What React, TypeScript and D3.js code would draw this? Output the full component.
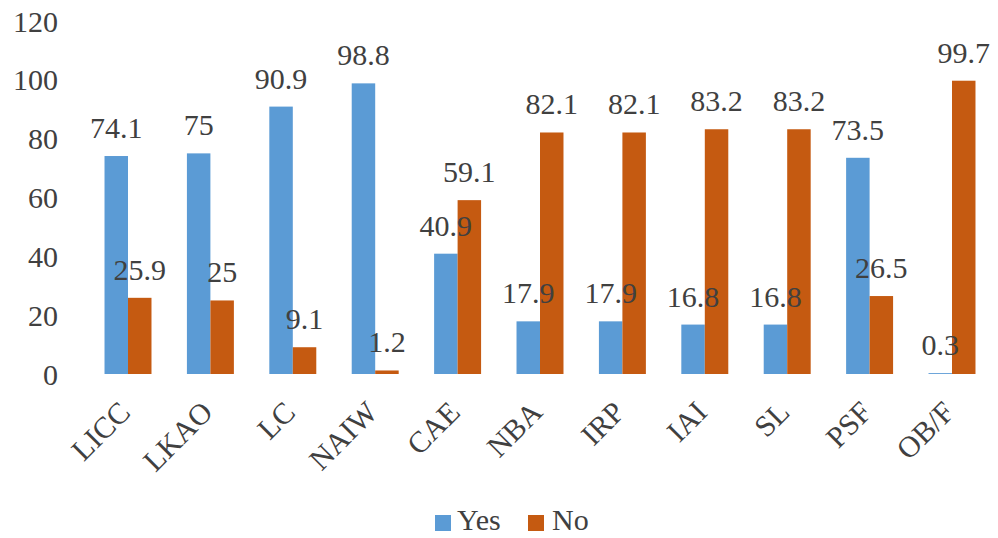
import React from "react";
import * as d3 from "d3";

const categories = ["LICC", "LKAO", "LC", "NAIW", "CAE", "NBA", "IRP", "IAI", "SL", "PSF", "OB/F"];
const yesValues = [74.1, 75, 90.9, 98.8, 40.9, 17.9, 17.9, 16.8, 16.8, 73.5, 0.3];
const noValues = [25.9, 25, 9.1, 1.2, 59.1, 82.1, 82.1, 83.2, 83.2, 26.5, 99.7];
const yTicks = [0, 20, 40, 60, 80, 100, 120];
const seriesNames = ["Yes", "No"];
const seriesColors = ["#5B9BD5", "#C55A11"];

const W = 998;
const H = 538;
const FONT = '"Liberation Serif", "DejaVu Serif", "Times New Roman", serif';
const TEXT = "#404040";
const FS = 30;

export default function App() {
  const x = d3.scaleBand<string>().domain(categories).range([86.8, 993.2]).paddingInner(0.43).paddingOuter(0.215);
  const xs = d3.scaleBand<string>().domain(seriesNames).range([0, x.bandwidth()]);
  const y = d3.scaleLinear().domain([0, 120]).range([374, 21]);
  const series = [yesValues, noValues];

  return (
    <svg width={W} height={H} style={{ position: "absolute", left: 0, top: 0, background: "#fff", fontFamily: FONT }}>
      {yTicks.map((t) => (
        <text key={t} x={58} y={y(t)} dy="0.35em" textAnchor="end" fontSize={FS} fill={TEXT}>
          {t}
        </text>
      ))}
      {categories.map((c, i) => (
        <g key={c} transform={`translate(${x(c)},0)`}>
          {series.map((vals, s) => {
            const bx = xs(seriesNames[s])!;
            const v = vals[i];
            return <rect key={s} x={bx} y={y(v)} width={xs.bandwidth()} height={y(0) - y(v)} fill={seriesColors[s]} />;
          })}
        </g>
      ))}
      {categories.map((c, i) => (
        <g key={c + "-l"} transform={`translate(${x(c)},0)`}>
          {series.map((vals, s) => {
            const bx = xs(seriesNames[s])!;
            const v = vals[i];
            return (
              <text key={s} x={bx + xs.bandwidth() / 2} y={y(v) - 18} textAnchor="middle" fontSize={FS} fill={TEXT}>
                {v}
              </text>
            );
          })}
          <text
            transform={`translate(${x.bandwidth() / 2 + 4},414) rotate(-45)`}
            textAnchor="end"
            fontSize={FS}
            fill={TEXT}
          >
            {c}
          </text>
        </g>
      ))}
      <g>
        <rect x={435} y={515} width={16} height={16} fill={seriesColors[0]} />
        <text x={457} y={530} fontSize={FS} fill={TEXT}>Yes</text>
        <rect x={528} y={515} width={16} height={16} fill={seriesColors[1]} />
        <text x={552} y={530} fontSize={FS} fill={TEXT}>No</text>
      </g>
    </svg>
  );
}
